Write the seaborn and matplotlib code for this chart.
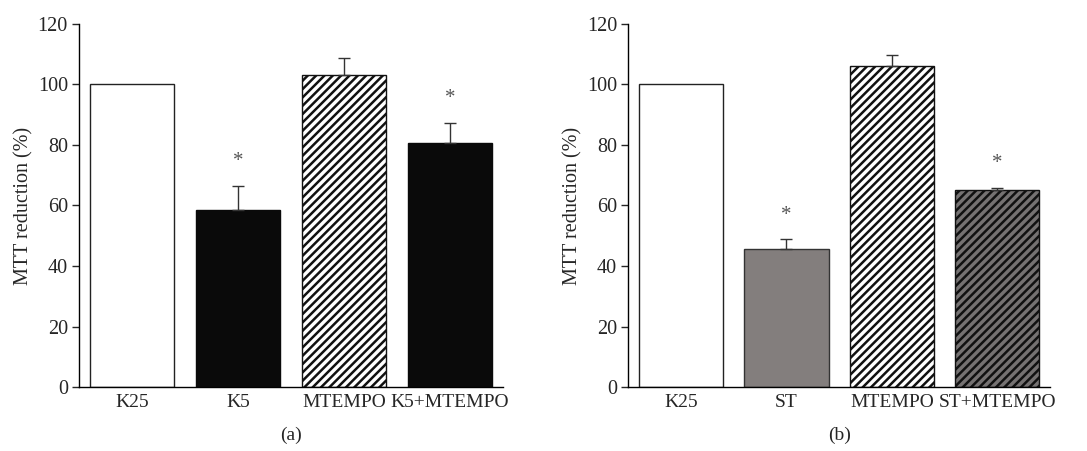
import matplotlib
matplotlib.use("Agg")
import matplotlib.pyplot as plt
import seaborn as sns
import pandas as pd

# ---- data ----
cats_a = ["K25", "K5", "MTEMPO", "K5+MTEMPO"]
vals_a = [100.0, 58.5, 103.0, 80.5]
errs_a = [0.0, 8.0, 5.8, 6.8]
sig_a = [False, True, False, True]

cats_b = ["K25", "ST", "MTEMPO", "ST+MTEMPO"]
vals_b = [100.0, 45.5, 106.0, 65.0]
errs_b = [0.0, 3.3, 3.8, 0.8]
sig_b = [False, True, False, True]

panel_labels = ["(a)", "(b)"]
yticks = [0, 20, 40, 60, 80, 100, 120]

sns.set_theme(style="ticks")
plt.rcParams['font.family'] = ['Liberation Serif', 'DejaVu Serif']
plt.rcParams['hatch.linewidth'] = 1.8

fig = plt.figure(figsize=(10.87, 4.51), dpi=100)
ax_a = fig.add_axes([0.0727, 0.1419, 0.3900, 0.8049])
ax_b = fig.add_axes([0.5780, 0.1419, 0.3880, 0.8049])

styles_a = [
    dict(fc="white", hatch=None, ec="#222222"),
    dict(fc="#0a0a0a", hatch=None, ec="#0a0a0a"),
    dict(fc="white", hatch="////", ec="#111111"),
    dict(fc="#0a0a0a", hatch=None, ec="#0a0a0a"),
]
styles_b = [
    dict(fc="white", hatch=None, ec="#222222"),
    dict(fc="#837e7d", hatch=None, ec="#333333"),
    dict(fc="white", hatch="////", ec="#111111"),
    dict(fc="#757272", hatch="////", ec="#111111"),
]


def draw(ax, cats, vals, errs, sig, styles, label):
    df = pd.DataFrame({"cat": cats, "val": vals})
    sns.barplot(data=df, x="cat", y="val", hue="cat", order=cats,
                palette=[s["fc"] for s in styles], legend=False,
                width=0.8, linewidth=1.0, edgecolor="black", ax=ax, errorbar=None,
                saturation=1)
    for p, s in zip(ax.patches, styles):
        p.set_facecolor(s["fc"])
        p.set_edgecolor(s["ec"])
        if s["hatch"]:
            p.set_hatch(s["hatch"])
    xs = list(range(len(cats)))
    for x, v, e, sg in zip(xs, vals, errs, sig):
        if e > 0:
            ax.errorbar(x, v, yerr=[[0], [e]], fmt="none", ecolor="#333333",
                        elinewidth=1.0, capsize=4, capthick=1.0, zorder=3)
        if sg:
            ax.text(x, v + e + 8, "*", ha="center", va="center",
                    fontsize=15, color="#555555")
    ax.set_ylim(0, 120)
    ax.set_xlim(-0.5, len(cats) - 0.5)
    ax.set_yticks(yticks)
    ax.set_xlabel("")
    ax.set_ylabel("MTT reduction (%)", fontsize=14.5, labelpad=3)
    ax.tick_params(axis="y", labelsize=14.5, length=5, width=1, direction="out", pad=3)
    ax.tick_params(axis="x", labelsize=14, length=0, pad=5)
    sns.despine(ax=ax)
    for sp in ["left", "bottom"]:
        ax.spines[sp].set_linewidth(1.0)
        ax.spines[sp].set_color("black")
    ax.text(0.5, -0.132, label, transform=ax.transAxes, ha="center", va="center",
            fontsize=14)


draw(ax_a, cats_a, vals_a, errs_a, sig_a, styles_a, panel_labels[0])
draw(ax_b, cats_b, vals_b, errs_b, sig_b, styles_b, panel_labels[1])

fig.savefig("out.png", dpi=100)
